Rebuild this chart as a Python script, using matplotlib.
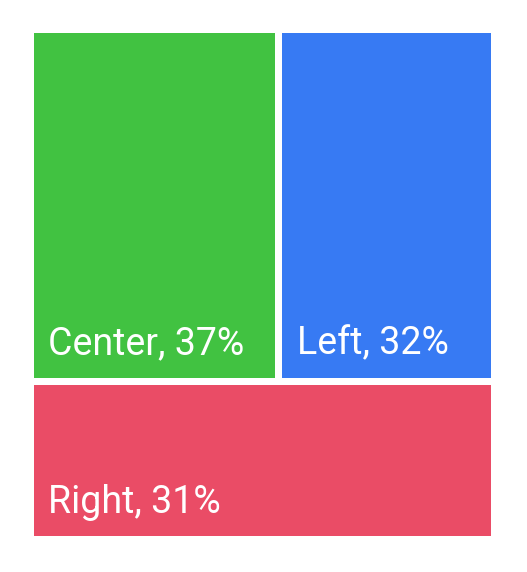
import matplotlib
matplotlib.use('Agg')
import matplotlib.pyplot as plt
from matplotlib.patches import Rectangle

# 데이터
labels = ['Center', 'Left', 'Right']
values = [37, 32, 31]
colors = ['#41c241', '#377af3', '#ea4c66']

plt.rcParams['font.family'] = ['Roboto', 'DejaVu Sans']

W_PX, H_PX = 527, 572
fig = plt.figure(figsize=(W_PX / 100, H_PX / 100), dpi=100)

# 트리맵 영역 (픽셀)
x0, y0, w, h = 30, 32.5, 464, 510.5
ax = fig.add_axes([x0 / W_PX, y0 / H_PX, w / W_PX, h / H_PX])
ax.set_xlim(0, w)
ax.set_ylim(0, h)
ax.axis('off')

total = sum(values)
# 아래쪽 가로 띠: Right, 위쪽 줄: Center | Left
bottom_h = h * values[2] / total
top_h = h - bottom_h
top_total = values[0] + values[1]
center_w = w * values[0] / top_total

rects = [
    (0, bottom_h, center_w, top_h),
    (center_w, bottom_h, w - center_w, top_h),
    (0, 0, w, bottom_h),
]

gap = 3.5
for (rx, ry, rw, rh), lab, val, col in zip(rects, labels, values, colors):
    ax.add_patch(Rectangle((rx + gap, ry + gap), rw - 2 * gap, rh - 2 * gap,
                           facecolor=col, edgecolor='none'))
    ax.text(rx + gap + 15, ry + gap + 23, f'{lab}, {val}%', color='white',
            fontsize=27, ha='left', va='baseline')

fig.savefig('out.png', dpi=100)
